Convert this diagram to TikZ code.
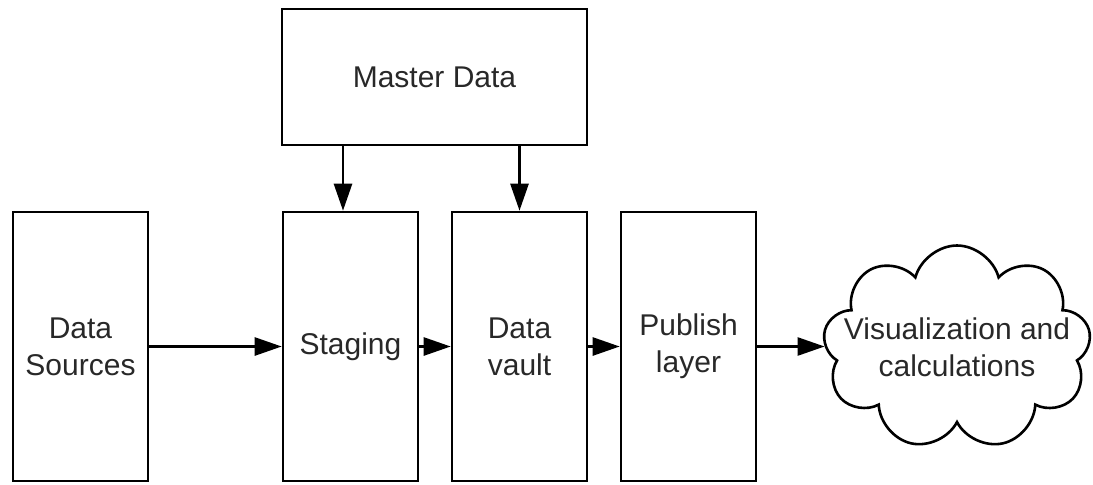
\documentclass[tikz,border=0pt]{standalone}
\usepackage{fontspec}
\setmainfont{Liberation Sans}
\usetikzlibrary{arrows.meta,shapes.symbols}
\definecolor{txtgray}{RGB}{40,40,40}

\tikzset{
  blk/.style={draw, line width=1.3pt, minimum width=67.5pt, minimum height=134.5pt,
    inner sep=0pt, align=center, text=txtgray, font=\fontsize{15}{18.5}\selectfont},
  arr/.style={line width=1.3pt, -{Triangle[length=13.5pt,width=9pt]}},
  cloudy/.style={draw, cloud, cloud puffs=9, cloud ignores aspect, line width=1.3pt,
    minimum width=134pt, minimum height=102pt, inner sep=0pt},
  lbl/.style={align=center, text=txtgray, inner sep=0pt, font=\fontsize{15}{18.5}\selectfont}
}

\begin{document}
\begin{tikzpicture}[x=0.5pt,y=-0.5pt]
\useasboundingbox (0,0) rectangle (1093,484);
% Master data on top
\node[blk, minimum width=152.5pt, minimum height=68pt] (master) at (434.5,77) {Master Data};

% Pipeline
\node[blk] (sources) at (80.5,346.5) {Data\\Sources};
\node[blk] (staging) at (350.5,346.5) {Staging};
\node[blk] (vault) at (519.5,346.5) {Data\\vault};
\node[blk] (publish) at (688.5,346.5) {Publish\\layer};
\node[cloudy] (vis) at (957,347.5) {};
\node[lbl] (vistext) at (vis.center) {Visualization and\\calculations};

% Arrows along the pipeline
\draw[arr] (sources) -- (staging);
\draw[arr] (staging) -- (vault);
\draw[arr] (vault) -- (publish);
\draw[arr] (publish.east) -- (publish.east -| vis.west);

% Arrows from master data
\coordinate (stagein) at ([xshift=-3.75pt]staging.north);
\draw[arr] (stagein |- master.south) -- (stagein);
\draw[arr] (vault.north |- master.south) -- (vault.north);
\end{tikzpicture}
\end{document}
